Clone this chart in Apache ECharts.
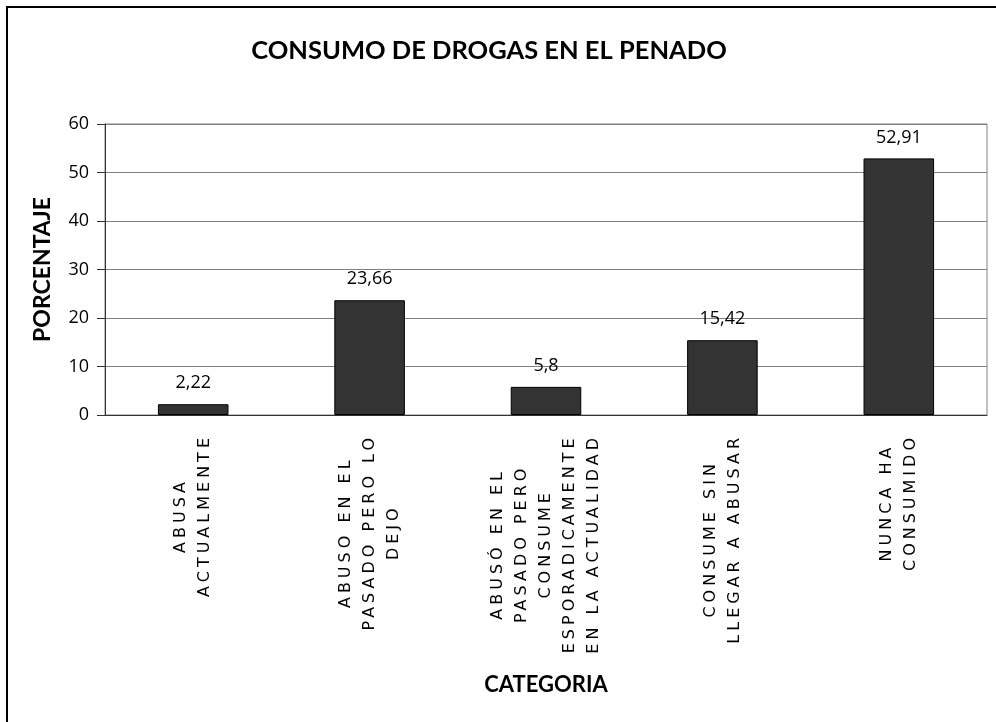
<!DOCTYPE html>
<html>
<head>
<meta charset="utf-8">
<script src="https://cdn.jsdelivr.net/npm/echarts@6/dist/echarts.min.js"></script>
<style>
  html, body { margin: 0; padding: 0; background: #fff; }
  #wrap { position: relative; width: 996px; height: 722px; overflow: hidden; }
  #frame { position: absolute; left: 6px; top: 6px; width: 1100px; height: 900px;
           border-left: 2px solid #000; border-top: 2px solid #000; }
  #chart { position: absolute; left: 0; top: 0; width: 996px; height: 722px; }
</style>
</head>
<body>
<div id="wrap">
  <div id="frame"></div>
  <div id="chart"></div>
</div>
<script>
// chart data
var titleText = "CONSUMO DE DROGAS EN EL PENADO";
var categories = [
  "ABUSA\nACTUALMENTE",
  "ABUSO EN EL\nPASADO PERO LO\nDEJO",
  "ABUSÓ EN EL\nPASADO PERO\nCONSUME\nESPORADICAMENTE\nEN LA ACTUALIDAD",
  "CONSUME SIN\nLLEGAR A ABUSAR",
  "NUNCA HA\nCONSUMIDO"
];
var porcentaje = [2.22, 23.66, 5.8, 15.42, 52.91];
var yTicks = [0, 10, 20, 30, 40, 50, 60];

// the original spreads letters out; zrender never sets canvas letterSpacing,
// so set it whenever a font is set (measuring and drawing both go through here)
function spacingFor(font) {
  if (/16px\s+"?DejaVu/.test(font)) return "4px";
  return "0px";
}
var fontProp = Object.getOwnPropertyDescriptor(CanvasRenderingContext2D.prototype, "font");
Object.defineProperty(CanvasRenderingContext2D.prototype, "font", {
  configurable: true,
  get: fontProp.get,
  set: function (f) {
    fontProp.set.call(this, f);
    if ("letterSpacing" in this) this.letterSpacing = spacingFor(f);
  }
});

var chart = echarts.init(document.getElementById("chart"));

chart.setOption({
  backgroundColor: "transparent",
  animation: false,
  title: {
    text: titleText,
    left: 484,
    top: 33,
    textAlign: "center",
    textStyle: {
      fontFamily: "Lato",
      fontWeight: "bold",
      fontSize: 25.5,
      color: "#000"
    }
  },
  grid: {
    left: 105,
    right: 9,
    top: 124,
    bottom: 307,
    show: true,
    borderColor: "#808080",
    borderWidth: 1
  },
  xAxis: {
    type: "category",
    data: categories,
    name: "CATEGORIA",
    nameLocation: "middle",
    nameGap: 259,
    nameTextStyle: {
      fontFamily: "Lato",
      fontWeight: "bold",
      fontSize: 22,
      color: "#000"
    },
    axisLine: { lineStyle: { color: "#333", width: 1 } },
    axisTick: { length: 7, lineStyle: { color: "#333" } },
    axisLabel: {
      interval: 0,
      rotate: 90,
      margin: 19,
      formatter: function (v) {
        return v.split("\n").map(function (l) { return "{c|" + l + "}"; }).join("\n");
      },
      rich: {
        c: {
          align: "center",
          fontFamily: "DejaVu Sans",
          fontSize: 16,
          lineHeight: 24,
          color: "#000"
        }
      }
    }
  },
  yAxis: {
    type: "value",
    min: yTicks[0],
    max: yTicks[yTicks.length - 1],
    interval: 10,
    name: "PORCENTAJE",
    nameLocation: "middle",
    nameRotate: 90,
    nameGap: 51,
    nameTextStyle: {
      fontFamily: "Lato",
      fontWeight: "bold",
      fontSize: 23,
      color: "#000"
    },
    axisLine: { show: true, lineStyle: { color: "#333", width: 1 } },
    axisTick: { show: true, length: 8, lineStyle: { color: "#333" } },
    axisLabel: {
      margin: 16,
      fontFamily: "Open Sans",
      fontSize: 18,
      color: "#000"
    },
    splitLine: { lineStyle: { color: "#808080", width: 1 } }
  },
  series: [
    {
      type: "bar",
      data: porcentaje,
      barWidth: "40%",
      itemStyle: { color: "#333333", borderColor: "#000", borderWidth: 1 },
      label: {
        show: true,
        position: "top",
        distance: 12,
        fontFamily: "Open Sans",
        fontSize: 18,
        color: "#000",
        formatter: function (p) { return String(p.value).replace(".", ","); }
      }
    }
  ]
});
</script>
</body>
</html>
